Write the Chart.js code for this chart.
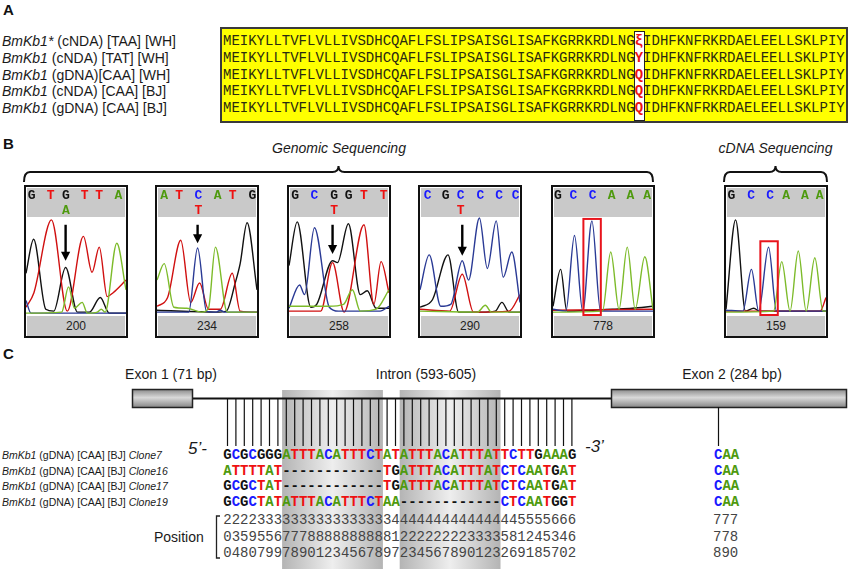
<!DOCTYPE html>
<html>
<head>
<meta charset="utf-8">
<title>BmKb1 sequencing figure</title>
<script src="https://cdn.jsdelivr.net/npm/chart.js@4.4.1/dist/chart.umd.min.js"></script>
<style>
  html, body { margin: 0; padding: 0; background: #fff; }
  #fig { position: relative; width: 852px; height: 569px; overflow: hidden; font-family: "Liberation Sans", Arial, sans-serif; color: #1a1a1a; }
  #deco { position: absolute; left: 0; top: 0; }
  .t { position: absolute; white-space: pre; line-height: 16px; height: 16px; }
  .mono { font-family: "Liberation Mono", "Courier New", monospace; font-size: 14px; }
  .ctr { transform: translateX(-50%); }
  .panel { font-weight: bold; font-size: 15px; color: #111; }
  #seqbox { position: absolute; left: 220px; top: 27px; width: 628px; height: 96px; box-sizing: border-box; border: 2px solid #3a3a3a; background: #ffff00; }
  #mutbox { position: absolute; left: 634px; top: 31px; width: 11px; height: 90px; box-sizing: border-box; border: 1.5px solid #222; background: #fff; }
  .chrom { position: absolute; top: 185px; width: 104px; height: 153px; box-sizing: border-box; border: 2px solid #111; background: #fff; }
  .chrom canvas { display: block; }
  .chrom .foot { height: 20px; margin: 0 1px; background: #c9c9c9; text-align: center; font-size: 12px; line-height: 20px; color: #222; }
</style>
</head>
<body>
<div id="fig"></div>
<script>
(function () {
'use strict';

// ---- Panel A: protein alignment
const protNames = ['BmKb1*', 'BmKb1', 'BmKb1', 'BmKb1', 'BmKb1'];
const protTags = [' (cNDA) [TAA] [WH]', ' (cNDA) [TAT] [WH]', ' (gDNA)[CAA] [WH]', ' (cNDA) [CAA] [BJ]', ' (gDNA) [CAA] [BJ]'];
const protHead = 'MEIKYLLTVFLVLLIVSDHCQAFLFSLIPSAISGLISAFKGRRKRDLNG';
const protTail = 'IDHFKNFRKRDAELEELLSKLPIY';
const variantRes = ['\u03BE', 'Y', 'Q', 'Q', 'Q'];

// ---- Panel B: chromatograms (trace x 0-101, peak height 0-100)
const siteLabels = [200, 234, 258, 290, 778, 159];

const tr200G = [[0,42],[7.7,77],[20,5],[28,3],[40,48],[52,2],[64,2],[75,17],[84,1],[101,1]];
const tr200T = [[0,7],[8,22],[25.7,97],[41.7,3],[58,80],[66.7,43],[74,69],[82,18],[88,22],[101,35]];
const tr200A = [[0,1],[36,2],[43,28],[49,6],[56.7,12],[62,1],[72,2],[76,5],[80,2],[91.7,73],[101,25]];
const tr200C = [[0,14],[5,1],[101,1]];

const tr234G = [[0,4],[60,2],[70,3],[79,32],[84,52],[91,94],[101,25]];
const tr234T = [[0,8],[10.7,17],[24,76],[34,12],[43,32],[52,5],[64,5],[76,42],[84,3],[101,2]];
const tr234A = [[0,35],[7.3,52],[17,7],[30,6],[45,2],[52,6],[59,69],[71,2],[101,2]];
const tr234C = [[0,2],[32,2],[41,68],[50,3],[60,2],[64,4],[68,2],[101,2]];

const tr258G = [[0,50],[8.3,95],[22,7],[28,10],[44,55],[49,53],[60,93],[72,20],[79,24],[88,6],[101,6]];
const tr258T = [[0,3],[32,3],[44,53],[55.7,2],[75.7,92],[85.7,10],[93,54],[101,22]];
const tr258A = [[0,8],[40,8],[55,10],[64,25],[72,3],[88,5],[101,25]];
const tr258C = [[0,6],[10.7,30],[15.7,20],[25.7,89],[40.7,7],[50,3],[92,3],[101,8]];

const tr290G = [[0,7],[12.7,15],[28.3,61],[39,2],[62,2],[76,3],[82.7,12],[90,2],[101,2]];
const tr290T = [[0,5],[30,3],[42.7,41],[54,2],[90,3],[101,20]];
const tr290A = [[0,3],[58,2],[66,9],[72,2],[101,2]];
const tr290C = [[0,25],[9.3,61],[21,8],[31,10],[42.7,55],[49,35],[60,99],[68,47],[77,96],[84,38],[92.7,64],[101,12]];

const tr778G = [[0,8],[7.7,46],[14,3],[40,4],[60,5],[80,6],[101,8]];
const tr778T = [[0,4],[101,5]];
const tr778A = [[0,2],[50,3],[58.3,64],[66.7,5],[75,69],[83,5],[92.7,59],[101,5]];
const tr778C = [[0,5],[13,3],[21.7,81],[30,3],[39.3,96],[48,3],[101,3]];

const tr159G = [[0,5],[9.7,97],[19.7,3],[28,6],[34,3],[101,3]];
const tr159T = [[0,3],[95,3],[101,17]];
const tr159A = [[0,2],[48,3],[56.3,54],[64.7,3],[73,65],[81,3],[89.7,58],[98,3],[101,3]];
const tr159C = [[0,4],[17,3],[25.7,46],[33,3],[43,69],[51,3],[101,3]];

const baseCalls = ['GTGTTA', 'ATCATG', 'GCGGTT', 'CGCCCC', 'GCCAAA', 'GCCAAA'];
const callX = [
  [5.7, 25, 40.3, 59.3, 74, 93.3],
  [7.3, 22.3, 41.7, 61.3, 76.3, 96.3],
  [6.3, 25.6, 45.6, 60.3, 75.6, 95.6],
  [7.7, 26, 41, 61, 80, 96.7],
  [5, 20.6, 40, 59.3, 78.3, 95],
  [5.4, 25.4, 44.7, 60.7, 79.7, 94.7]
];
const altCall = ['A', 'T', 'T', 'T', '', ''];
const altX = [40.3, 41.7, 45.6, 41, 0, 0];
const arrowX = [40, 41, 44, 42.7, null, null];
const arrowTip = [55, 73, 62, 60, null, null];
const boxX = [null, null, null, null, [30.7, 48.3], [34.7, 52.3]];
const boxTop = [null, null, null, null, 98, 75];

// ---- Panel C: intron clones
const cloneNames = ['Clone7', 'Clone16', 'Clone17', 'Clone19'];
const cloneSeqs = [
  'GCGCGGGATTTACATTTCTATATTTACATTTATTCTTGAAAG',
  'ATTTTAT------------TGATTTACATTTATCTCAATGAT',
  'GCGCTAT------------TGATTTACATTTATCTCAATGAT',
  'GCGCTATATTTACATTTCTAA------------CTCAATGGT'
];
const exon2Codon = 'CAA';
const sitePositions = [200, 234, 258, 290, 357, 359, 369, 377, 378, 379, 380, 381, 382, 383, 384, 385, 386, 387, 388, 389,
  417, 422, 423, 424, 425, 426, 427, 428, 429, 430, 431, 432, 433, 452, 486, 519, 521, 548, 555, 637, 640, 662];
const exon2Positions = [778, 779, 780];
const repeatCols = [[8, 19], [22, 33]];

// ---- styling / layout
const BASE_COL = { A: '#4e9a0e', T: '#ee1111', C: '#1a1aff', G: '#111111', '-': '#111111' };
const TRACE_COL = { A: '#7dbb2a', C: '#2a3a95', T: '#d01010', G: '#111111' };
const SEQ_X = 223.3, CW = 8.4;
const HEADER = 30, ARROW_TOP = 92;
const fig = document.getElementById('fig');

function put(html, x, cy, cls, css) {
  const d = document.createElement('div');
  d.className = 't ' + (cls || '');
  d.innerHTML = html;
  d.style.left = x + 'px';
  d.style.top = (cy - 8) + 'px';
  if (css) d.style.cssText += css;
  fig.appendChild(d);
  return d;
}
function colored(seq) {
  return seq.split('').map(ch => `<span style="color:${BASE_COL[ch]}">${ch}</span>`).join('');
}

// decorations (brackets, gene model, repeat bands, ticks)
function buildSvg() {
  const colX = c => SEQ_X + (c - 1) * CW;
  let s = `<svg id="deco" width="852" height="569" xmlns="http://www.w3.org/2000/svg"><defs>
    <linearGradient id="exg" x1="0" y1="0" x2="0" y2="1"><stop offset="0" stop-color="#8c8c8c"/><stop offset="0.45" stop-color="#d9d9d9"/><stop offset="1" stop-color="#858585"/></linearGradient>
    <linearGradient id="bandg" x1="0" y1="0" x2="1" y2="0"><stop offset="0" stop-color="#b4b4b4"/><stop offset="0.5" stop-color="#eeeeee"/><stop offset="1" stop-color="#b4b4b4"/></linearGradient>
  </defs>`;
  const brace = (a, b, y) => { const m = (a + b) / 2; return `<path d="M${a} ${y + 10} Q${a} ${y} ${a + 6} ${y} L${m - 6} ${y} Q${m} ${y} ${m} ${y - 6} Q${m} ${y} ${m + 6} ${y} L${b - 6} ${y} Q${b} ${y} ${b} ${y + 10}" fill="none" stroke="#111" stroke-width="2"/>`; };
  s += brace(24, 653, 172) + brace(724, 827, 172);
  repeatCols.forEach(([a, b]) => { s += `<rect x="${colX(a)}" y="390" width="${colX(b) + CW - colX(a)}" height="179" fill="url(#bandg)"/>`; });
  s += `<line x1="192" y1="398.5" x2="611" y2="398.5" stroke="#111" stroke-width="2"/>`;
  s += `<rect x="132.5" y="389.5" width="60" height="18" fill="url(#exg)" stroke="#222" stroke-width="1.5"/>`;
  s += `<rect x="611.5" y="389.5" width="235" height="18" fill="url(#exg)" stroke="#222" stroke-width="1.5"/>`;
  for (let i = 0; i < sitePositions.length; i++) {
    const x = (SEQ_X + (i + 0.5) * CW).toFixed(1);
    s += `<line x1="${x}" y1="398" x2="${x}" y2="446" stroke="#111" stroke-width="1.2"/>`;
  }
  s += `<line x1="718.5" y1="407" x2="718.5" y2="446" stroke="#111" stroke-width="1.2"/>`;
  s += `<path d="M220 516 L216.5 516 L216.5 558 L220 558" fill="none" stroke="#222" stroke-width="1.3"/>`;
  s += '</svg>';
  fig.insertAdjacentHTML('beforeend', s);
}

function panelA() {
  put('A', 3, 10, 'panel');
  const box = document.createElement('div'); box.id = 'seqbox'; fig.appendChild(box);
  const mut = document.createElement('div'); mut.id = 'mutbox'; fig.appendChild(mut);
  protNames.forEach((n, i) => {
    const cy = 40.7 + 16.9 * i;
    put(`<i>${n}</i>${protTags[i]}`, 2, cy, '', 'font-size:14px;');
    put(`${protHead}<b style="color:#ee1111">${variantRes[i]}</b>${protTail}`, SEQ_X - 0.3, cy, 'mono', 'color:#2a2a10;');
  });
}

function decoPlugin(k) {
  return {
    id: 'chromDeco',
    beforeDraw(chart) {
      const c = chart.ctx;
      c.save(); c.fillStyle = '#c9c9c9'; c.fillRect(1, 1, chart.width - 2, HEADER - 1); c.restore();
    },
    afterDatasetsDraw(chart) {
      const c = chart.ctx, xs = chart.scales.x, ys = chart.scales.y;
      c.save();
      if (boxX[k]) {
        const x0 = xs.getPixelForValue(boxX[k][0]), x1 = xs.getPixelForValue(boxX[k][1]);
        const y0 = ys.getPixelForValue(boxTop[k]), y1 = ys.getPixelForValue(-2) - 1;
        c.strokeStyle = '#e8141c'; c.lineWidth = 2; c.strokeRect(x0, y0, x1 - x0, y1 - y0);
      }
      if (arrowX[k] !== null) {
        const x = xs.getPixelForValue(arrowX[k]), y0 = ys.getPixelForValue(ARROW_TOP), y1 = ys.getPixelForValue(arrowTip[k]);
        c.strokeStyle = '#000'; c.lineWidth = 2.4;
        c.beginPath(); c.moveTo(x, y0); c.lineTo(x, y1 - 7); c.stroke();
        c.fillStyle = '#000';
        c.beginPath(); c.moveTo(x - 4.6, y1 - 9); c.lineTo(x + 4.6, y1 - 9); c.lineTo(x, y1); c.closePath(); c.fill();
      }
      c.restore();
    },
    afterDraw(chart) {
      const c = chart.ctx, xs = chart.scales.x;
      c.save();
      c.font = 'bold 13px "Liberation Mono", monospace';
      c.textAlign = 'center'; c.textBaseline = 'middle';
      baseCalls[k].split('').forEach((b, j) => { c.fillStyle = BASE_COL[b]; c.fillText(b, xs.getPixelForValue(callX[k][j]), 8.5); });
      if (altCall[k]) { c.fillStyle = BASE_COL[altCall[k]]; c.fillText(altCall[k], xs.getPixelForValue(altX[k]), 23.5); }
      c.restore();
    }
  };
}

function panelB() {
  put('B', 3, 144, 'panel');
  put('<i>Genomic Sequencing</i>', 339, 148, 'ctr', 'font-size:14px;');
  put('<i>cDNA Sequencing</i>', 775.5, 148, 'ctr', 'font-size:14px;');
  const lefts = [24, 155, 287, 418, 551, 724];
  const traces = [
    { A: tr200A, C: tr200C, T: tr200T, G: tr200G },
    { A: tr234A, C: tr234C, T: tr234T, G: tr234G },
    { A: tr258A, C: tr258C, T: tr258T, G: tr258G },
    { A: tr290A, C: tr290C, T: tr290T, G: tr290G },
    { A: tr778A, C: tr778C, T: tr778T, G: tr778G },
    { A: tr159A, C: tr159C, T: tr159T, G: tr159G }
  ];
  traces.forEach((tr, k) => {
    const box = document.createElement('div');
    box.className = 'chrom'; box.style.left = lefts[k] + 'px';
    box.innerHTML = `<canvas width="100" height="129"></canvas><div class="foot">${siteLabels[k]}</div>`;
    fig.appendChild(box);
    new Chart(box.querySelector('canvas'), {
      type: 'line',
      data: {
        datasets: ['A', 'C', 'T', 'G'].map(b => ({
          data: tr[b].map(([x, y]) => ({ x, y })),
          borderColor: TRACE_COL[b], borderWidth: 1.4, pointRadius: 0,
          cubicInterpolationMode: 'monotone', fill: false
        }))
      },
      options: {
        responsive: false, animation: false, events: [],
        layout: { padding: { top: HEADER, left: 0, right: 0, bottom: 0 } },
        plugins: { legend: { display: false }, tooltip: { enabled: false } },
        scales: {
          x: { type: 'linear', min: 0, max: 101, display: false },
          y: { min: -2, max: 100, display: false }
        }
      },
      plugins: [decoPlugin(k)]
    });
  });
}

function panelC() {
  put('C', 3, 354, 'panel');
  put('Exon 1 (71 bp)', 171, 374, 'ctr', 'font-size:14px;');
  put('Intron (593-605)', 426, 374, 'ctr', 'font-size:14px;');
  put('Exon 2 (284 bp)', 732, 374, 'ctr', 'font-size:14px;');
  put('<i>5\u2019-</i>', 188, 448, '', 'font-size:17px;line-height:18px;');
  put('<i>-3\u2019</i>', 585, 446, '', 'font-size:17px;line-height:18px;');
  cloneNames.forEach((n, i) => {
    const cy = 455 + 15.5 * i;
    put(`<i>BmKb1</i> (gDNA) [CAA] [BJ] <i>${n}</i>`, 2, cy, '', 'font-size:10.5px;');
    put(colored(cloneSeqs[i]), SEQ_X, cy, 'mono', 'font-weight:bold;');
    put(colored(exon2Codon), 714, cy, 'mono', 'font-weight:bold;');
  });
  put('Position', 154, 537, '', 'font-size:14px;');
  [520, 536.7, 553.3].forEach((cy, r) => {
    put(sitePositions.map(p => String(p)[r]).join(''), SEQ_X, cy, 'mono', 'color:#444;');
    put(exon2Positions.map(p => String(p)[r]).join(''), 713, cy, 'mono', 'color:#444;');
  });
}

function init() { buildSvg(); panelA(); panelB(); panelC(); }
if (document.readyState === 'loading') document.addEventListener('DOMContentLoaded', init); else init();
})();
</script>
</body>
</html>
